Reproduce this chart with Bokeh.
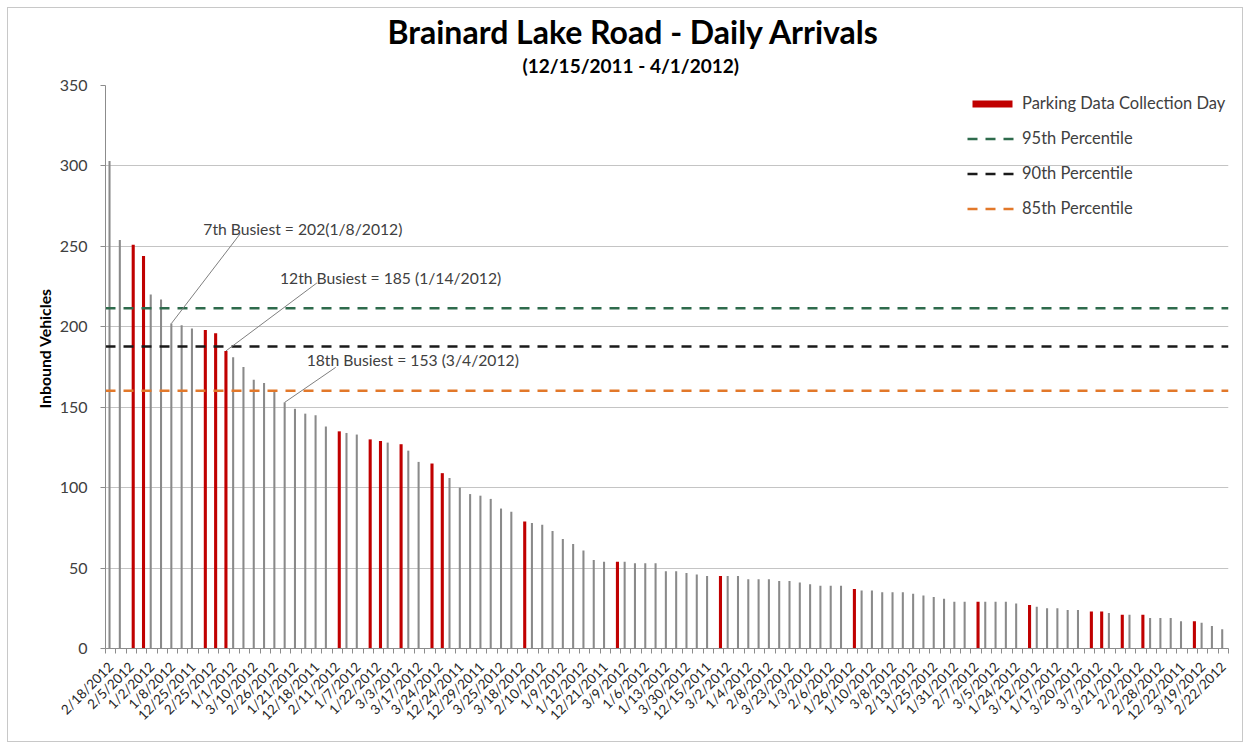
import math
from bokeh.plotting import figure
from bokeh.models import (Range1d, FixedTicker, Legend, LegendItem, Label,
                          ColumnDataSource, Title)
from bokeh.embed import file_html
from bokeh.resources import INLINE

# ---------------- data ----------------
tick_labels = [
    "2/18/2012", "2/5/2012", "1/2/2012", "1/8/2012", "12/25/2011", "2/25/2012",
    "1/1/2012", "3/10/2012", "2/26/2012", "1/21/2012", "12/18/2011", "2/11/2012",
    "1/7/2012", "1/22/2012", "3/3/2012", "3/17/2012", "3/24/2012", "12/24/2011",
    "12/29/2011", "3/25/2012", "3/18/2012", "2/10/2012", "1/9/2012", "1/12/2012",
    "12/21/2011", "3/9/2012", "1/6/2012", "1/13/2012", "3/30/2012", "12/15/2011",
    "3/2/2012", "1/4/2012", "2/8/2012", "3/23/2012", "1/3/2012", "2/6/2012",
    "1/26/2012", "1/10/2012", "3/8/2012", "2/13/2012", "1/25/2012", "1/31/2012",
    "2/7/2012", "3/5/2012", "1/24/2012", "3/12/2012", "1/17/2012", "3/20/2012",
    "3/7/2012", "3/21/2012", "2/2/2012", "2/28/2012", "12/22/2011", "3/19/2012",
    "2/22/2012",
]

arrivals = [
    303, 254, 251, 244, 220, 217, 202, 201, 199, 198,
    196, 185, 181, 175, 167, 165, 160, 153, 149, 146,
    145, 138, 135, 134, 133, 130, 129, 128, 127, 123,
    116, 115, 109, 106, 100, 96, 95, 93, 87, 85,
    79, 78, 77, 73, 68, 65, 61, 55, 54, 54,
    54, 53, 53, 53, 48, 48, 47, 46, 45, 45,
    45, 45, 43, 43, 43, 42, 42, 41, 40, 39,
    39, 39, 37, 36, 36, 35, 35, 35, 34, 33,
    32, 31, 29, 29, 29, 29, 29, 29, 28, 27,
    26, 25, 25, 24, 24, 23, 23, 22, 21, 21,
    21, 19, 19, 19, 17, 17, 16, 14, 12,
]

collection_ranks = [3, 4, 10, 11, 12, 23, 26, 27, 29, 32, 33, 41, 50, 60,
                    73, 85, 90, 96, 97, 99, 101, 106]

pct_names = ["95th Percentile", "90th Percentile", "85th Percentile"]
pct_values = [211.5, 187.7, 160.2]
pct_colors = ["#2e6b4c", "#1a1a1a", "#e2782a"]

annot_ranks = [7, 12, 18]
annot_texts = ["7th Busiest = 202(1/8/2012)",
               "12th Busiest = 185 (1/14/2012)",
               "18th Busiest = 153 (3/4/2012)"]
# offsets (screen px) from bar top: leader end and text anchor
annot_line_dx = [69, 91, 51]
annot_line_dy = [90, 68, 35]
annot_text_dx = [32, 54, 22]
annot_text_dy = [95, 73, 42]

y_ticks = [0, 50, 100, 150, 200, 250, 300, 350]

# ---------------- geometry ----------------
W, H = 1236, 735
L, T, R, B = 97, 77, 16, 95
N = len(arrivals)
x0, x1 = 0.5, N + 0.5
y0, y1 = 0, 350
px_x = (W - L - R) / (x1 - x0)
px_y = (H - T - B) / (y1 - y0)
GRAY_OFF, RED_OFF = -0.11, 0.19

ranks = list(range(1, N + 1))
red_set = set(collection_ranks)
gray_x = [r + GRAY_OFF for r in ranks if r not in red_set]
gray_top = [arrivals[r - 1] for r in ranks if r not in red_set]
red_x = [r + RED_OFF for r in collection_ranks]
red_top = [arrivals[r - 1] for r in collection_ranks]

FONT = "Lato"
TXT = "#404040"

p = figure(width=W, height=H, output_backend="svg", toolbar_location=None,
           x_range=Range1d(x0, x1), y_range=Range1d(y0, y1),
           min_border_left=L, min_border_top=T, min_border_right=R,
           min_border_bottom=B, outline_line_color=None,
           background_fill_color="white", border_fill_color="white",
           margin=(7, 7, 7, 7),
           styles={"border": "1px solid #c8c8c8"})

# titles: small spacer, subtitle, then main title (stacked upward from the frame)
p.add_layout(Title(text=" ", align="left", text_font=FONT,
                   text_font_size="1px", standoff=5), "above")
p.add_layout(Title(text="(12/15/2011 - 4/1/2012)", align="left",
                   text_font=FONT, text_font_size="19px",
                   text_font_style="bold", text_color="#000000",
                   offset=417, standoff=2), "above")
p.add_layout(Title(text="Brainard Lake Road - Daily Arrivals", align="left",
                   text_font=FONT, text_font_size="32px",
                   text_font_style="bold", text_color="#000000",
                   offset=282, standoff=0), "above")

# axes
p.xgrid.visible = False
p.ygrid.grid_line_color = "#c4c4c4"
p.ygrid.grid_line_width = 1
p.yaxis.ticker = FixedTicker(ticks=y_ticks)
p.yaxis.axis_line_color = "#8c8c8c"
p.yaxis.major_tick_line_color = "#8c8c8c"
p.yaxis.major_tick_out = 5
p.yaxis.major_tick_in = 0
p.yaxis.minor_tick_line_color = None
p.yaxis.major_label_text_font = FONT
p.yaxis.major_label_text_font_size = "16px"
p.yaxis.major_label_text_color = TXT
p.yaxis.major_label_standoff = 13

# y-axis title, shifted above the frame centre as in the original
p.add_layout(Title(text="Inbound Vehicles", align="left",
                   text_font=FONT, text_font_size="15.8px",
                   text_font_style="bold", text_color="#000000",
                   offset=240, standoff=6), "left")

label_ticks = [r for r in ranks if r % 2 == 1]
p.xaxis.ticker = FixedTicker(ticks=label_ticks,
                             minor_ticks=[r + 0.5 for r in range(0, N + 1)])
p.xaxis.major_label_overrides = {t: lab for t, lab in zip(label_ticks, tick_labels)}
p.xaxis.major_label_orientation = math.pi / 4
p.xaxis.major_label_text_font = FONT
p.xaxis.major_label_text_font_size = "13.5px"
p.xaxis.major_label_text_color = "#262626"
p.xaxis.major_label_standoff = 10
p.xaxis.axis_line_color = "#8c8c8c"
p.xaxis.major_tick_line_color = None
p.xaxis.minor_tick_line_color = "#8c8c8c"
p.xaxis.minor_tick_out = 5
p.xaxis.minor_tick_in = 0

# bars
gray_src = ColumnDataSource(dict(x=gray_x, top=gray_top))
red_src = ColumnDataSource(dict(x=red_x, top=red_top))
p.vbar(x="x", top="top", width=0.2, bottom=0, source=gray_src,
       fill_color="#8a8a8a", line_color=None)
red_r = p.vbar(x="x", top="top", width=0.3, bottom=0, source=red_src,
               fill_color="#c00000", line_color=None)

# percentile lines
pct_renderers = []
for v, c in zip(pct_values, pct_colors):
    r = p.line(x=[x0, x1], y=[v, v], line_color=c, line_width=2.5,
               line_dash="10 8")
    pct_renderers.append(r)

# annotations
for rk, txt, ldx, ldy, tdx, tdy in zip(annot_ranks, annot_texts, annot_line_dx,
                                        annot_line_dy, annot_text_dx, annot_text_dy):
    bx = rk + (RED_OFF if rk in red_set else GRAY_OFF)
    by = arrivals[rk - 1]
    p.segment(x0=[bx], y0=[by], x1=[bx + ldx / px_x], y1=[by + ldy / px_y],
              line_color="#7f7f7f", line_width=1)
    p.add_layout(Label(x=bx + tdx / px_x, y=by + tdy / px_y, text=txt,
                       text_font=FONT, text_font_size="15.7px",
                       text_color=TXT, text_align="left",
                       text_baseline="middle"))

# legend
items = [LegendItem(label="Parking Data Collection Day", renderers=[red_r])]
for name, r in zip(pct_names, pct_renderers):
    items.append(LegendItem(label=name, renderers=[r]))
legend = Legend(items=items, location=(862, 430), orientation="vertical",
                glyph_width=50, glyph_height=9, label_height=20,
                spacing=15, padding=10, label_standoff=5,
                label_text_font=FONT, label_text_font_size="16.5px",
                label_text_color=TXT, background_fill_alpha=0,
                border_line_color=None)
p.add_layout(legend, "center")

open("out.html", "w").write(file_html(p, INLINE))
